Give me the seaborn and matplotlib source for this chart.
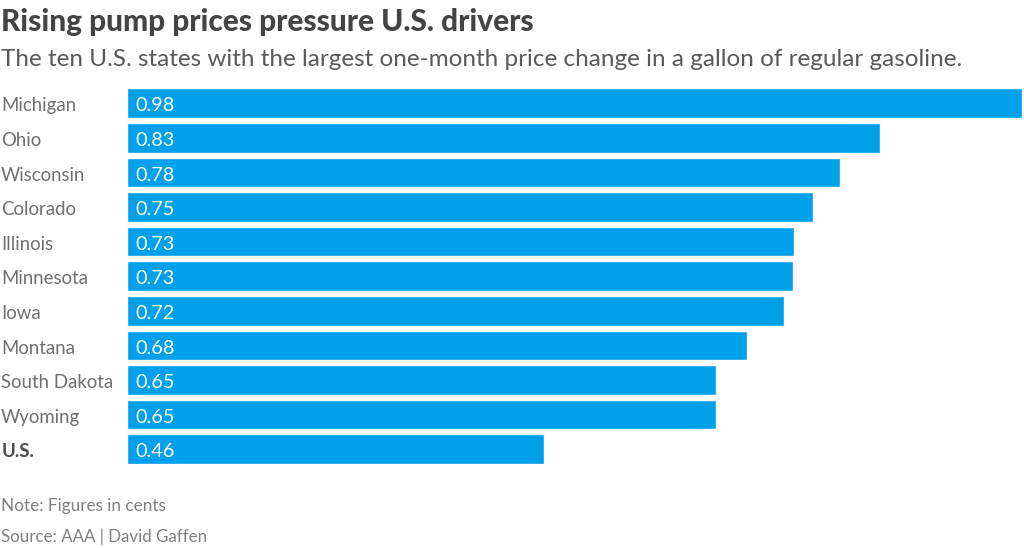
import matplotlib
matplotlib.use("Agg")
import matplotlib.pyplot as plt
import seaborn as sns
import pandas as pd

states = ["Michigan", "Ohio", "Wisconsin", "Colorado", "Illinois", "Minnesota", "Iowa", "Montana", "South Dakota", "Wyoming", "U.S."]
values = [0.98, 0.83, 0.78, 0.75, 0.73, 0.73, 0.72, 0.68, 0.65, 0.65, 0.46]
widths = [0.989, 0.8318, 0.7875, 0.7585, 0.7375, 0.7361, 0.7265, 0.6855, 0.6505, 0.6505, 0.4605]
title = "Rising pump prices pressure U.S. drivers"
subtitle = "The ten U.S. states with the largest one-month price change in a gallon of regular gasoline."
note = "Note: Figures in cents"
source = "Source: AAA | David Gaffen"

sns.set_theme(style="white")
plt.rcParams["font.family"] = ["Lato", "DejaVu Sans"]

W, H = 1024, 548
LEFT = 127.0
TOP = 85.9
BOTTOM = 466.5
fig = plt.figure(figsize=(W / 100, H / 100), dpi=100, facecolor="white")
ax = fig.add_axes([LEFT / W, 1 - BOTTOM / H, (1024 - LEFT) / W, (BOTTOM - TOP) / H])
df = pd.DataFrame({"state": states, "width": widths})
sns.barplot(data=df, x="width", y="state", color="#00a0ea", saturation=1, width=0.85, ax=ax)
ax.set_xlim(0, (1024 - LEFT) / 905)
ax.set_ylim(10.5, -0.5)
ax.set_xlabel("")
ax.set_ylabel("")
ax.set_xticks([])
ax.set_yticks(range(len(states)))
ax.set_yticklabels([])
ax.tick_params(length=0)
sns.despine(ax=ax, left=True, bottom=True)

trans = ax.get_yaxis_transform()
axw = 1024 - LEFT
for i, (s, v) in enumerate(zip(states, values)):
    is_us = s == "U.S."
    ax.text((1.2 - LEFT) / axw, i + 0.08, s, transform=trans, ha="left", va="center",
            fontsize=13.4, color="#4d4d4d" if is_us else "#707070",
            fontweight="bold" if is_us else "normal", clip_on=False)
    ax.text(8.5 / axw, i + 0.08, f"{v:.2f}", transform=trans, ha="left", va="center",
            fontsize=14.3, color="white")

fig.text(1 / W, 1 - 21.5 / H, title, fontsize=21.4, fontweight="black", color="#444444", ha="left", va="center")
fig.text(1 / W, 1 - 59 / H, subtitle, fontsize=17.5, color="#5a5a5a", ha="left", va="center")
fig.text(1 / W, 1 - 506 / H, note, fontsize=12.3, color="#808080", ha="left", va="center")
fig.text(1 / W, 1 - 537 / H, source, fontsize=12.2, color="#808080", ha="left", va="center")

fig.savefig("out.png", dpi=100)
